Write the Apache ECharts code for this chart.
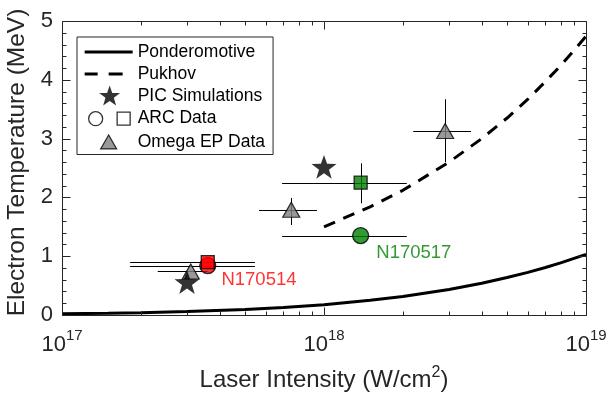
<!DOCTYPE html>
<html>
<head>
<meta charset="utf-8">
<script src="https://cdn.jsdelivr.net/npm/echarts@6.0.0/dist/echarts.min.js"></script>
<style>
html, body { margin: 0; padding: 0; background: #fff; }
#chart { width: 610px; height: 395px; }
</style>
</head>
<body>
<div id="chart"></div>
<script>
// theory curves
const pondI = [1e17, 1.5e17, 2e17, 3e17, 5e17, 7e17, 1e18, 1.5e18, 2e18, 3e18, 4e18, 5e18, 6e18, 7e18, 8e18, 1e19]
const pondT = [0.02, 0.03, 0.04, 0.059, 0.095, 0.128, 0.176, 0.249, 0.316, 0.435, 0.541, 0.637, 0.725, 0.808, 0.886, 1.03]
const pukhovI = [1e18, 1.5e18, 2e18, 3e18, 4e18, 5e18, 6e18, 7e18, 8e18, 9e18, 1e19]
const pukhovT = [1.5, 1.84, 2.12, 2.6, 3.0, 3.35, 3.67, 3.97, 4.24, 4.5, 4.74]

// PIC simulations
const picI = [3e17, 1e18]
const picT = [0.56, 2.52]

// Omega EP data
const omegaI = [3.1e17, 7.5e17, 2.9e18]
const omegaILo = [2.32e17, 5.65e17, 2.19e18]
const omegaIHi = [3.6e17, 9.4e17, 3.64e18]
const omegaT = [0.74, 1.79, 3.13]
const omegaTLo = [0.74, 1.53, 2.6]
const omegaTHi = [0.74, 1.99, 3.67]

// ARC shots
const arcShots = ['N170514', 'N170517']
const arcColors = ['#ff0000', '#008000']
const arcI = [3.6e17, 1.38e18]
const arcILo = [1.82e17, 6.92e17]
const arcIHi = [5.45e17, 2.07e18]
const arcSquareT = [0.9, 2.25]
const arcSquareTLo = [0.9, 1.9]
const arcSquareTHi = [0.9, 2.58]
const arcCircleT = [0.84, 1.35]

// axis ticks
const xMajor = [1e17, 1e18, 1e19]
const xMinorMult = [2, 3, 4, 5, 6, 7, 8, 9]
const yMajor = [0, 1, 2, 3, 4, 5]
const yMinorStep = 0.2

const ink = '#262626'
const font = 'Liberation Sans'

const starPath = 'M25,0.5 L27.59,7.94 L35.46,8.1 L29.18,12.86 L31.47,20.4 L25,15.9 L18.53,20.4 L20.82,12.86 L14.54,8.1 L22.41,7.94 Z'
// legend icons live in a 48x22 box
const box = ' M0,0 M48,22'
const legendSolid = 'path://M0,9.5 L48,9.5 L48,12.5 L0,12.5 Z' + box
const legendDash = 'path://M0,9.5 L13,9.5 L13,12.5 L0,12.5 Z M24,9.5 L38,9.5 L38,12.5 L24,12.5 Z' + box
const legendStar = 'path://' + starPath + box
const legendArc = 'path://M18,11 A7,7 0 1,1 4,11 A7,7 0 1,1 18,11 Z M32.5,4.5 L45.5,4.5 L45.5,17.5 L32.5,17.5 Z' + box
const legendTri = 'path://M16,18 L32,18 L24,4 Z' + box

let xMinor = []
for (let i = 0; i < xMajor.length - 1; i++) {
  xMinorMult.forEach(m => xMinor.push(xMajor[i] * m))
}
let yMinor = []
for (let v = yMinorStep; v < yMajor[yMajor.length - 1]; v += yMinorStep) {
  if (Math.abs(v - Math.round(v)) > 1e-6) yMinor.push(v)
}

let errRows = []
for (let i = 0; i < omegaI.length; i++) {
  errRows.push([omegaI[i], omegaT[i], omegaILo[i], omegaIHi[i], omegaTLo[i], omegaTHi[i]])
}
for (let i = 0; i < arcI.length; i++) {
  errRows.push([arcI[i], arcSquareT[i], arcILo[i], arcIHi[i], arcSquareTLo[i], arcSquareTHi[i]])
  errRows.push([arcI[i], arcCircleT[i], arcILo[i], arcIHi[i], arcCircleT[i], arcCircleT[i]])
}

const chart = echarts.init(document.getElementById('chart'))

const crisp = v => Math.round(v) + 0.5

// axes box with inward ticks on all four sides
// edges come from the grid rect, ticks from the scales (probed at an inner point)
function frameParts(params, api) {
  const cs = params.coordSys
  const L = crisp(cs.x), T = crisp(cs.y), R = crisp(cs.x + cs.width), B = crisp(cs.y + cs.height)
  const xMid = xMajor[1], yMid = yMajor[2]
  const out = []
  const seg = (x1, y1, x2, y2) => {
    if ([x1, y1, x2, y2].every(isFinite)) out.push({ type: 'line', shape: { x1: x1, y1: y1, x2: x2, y2: y2 }, style: { stroke: ink, lineWidth: 1 } })
  }
  seg(L, B, R, B); seg(L, T, R, T); seg(L, B, L, T); seg(R, B, R, T)
  xMajor.forEach(v => { const x = crisp(api.coord([v, yMid])[0]); seg(x, B, x, B - 8); seg(x, T, x, T + 8) })
  xMinor.forEach(v => { const x = crisp(api.coord([v, yMid])[0]); seg(x, B, x, B - 4); seg(x, T, x, T + 4) })
  yMajor.forEach(v => { const y = crisp(api.coord([xMid, v])[1]); seg(L, y, L + 8, y); seg(R, y, R - 8, y) })
  yMinor.forEach(v => { const y = crisp(api.coord([xMid, v])[1]); seg(L, y, L + 4, y); seg(R, y, R - 4, y) })
  return out
}

// error bars (the first item also carries the axes box)
function renderErrors(params, api) {
  const x = api.value(0)
  const y = api.value(1)
  const a = api.coord([api.value(2), y])
  const b = api.coord([api.value(3), y])
  const c = api.coord([x, api.value(4)])
  const d = api.coord([x, api.value(5)])
  let kids = [
    { type: 'line', shape: { x1: a[0], y1: crisp(a[1]), x2: b[0], y2: crisp(b[1]) }, style: { stroke: '#000', lineWidth: 1 } },
    { type: 'line', shape: { x1: crisp(c[0]), y1: c[1], x2: crisp(d[0]), y2: d[1] }, style: { stroke: '#000', lineWidth: 1 } }
  ]
  if (params.dataIndex === 0) kids = kids.concat(frameParts(params, api))
  return { type: 'group', children: kids }
}

const option = {
  animation: false,
  grid: { left: 62, right: 24, top: 21, bottom: 80, outerBoundsMode: 'none' },
  xAxis: {
    type: 'log',
    logBase: 10,
    min: 1e17,
    max: 1e19,
    axisLine: { show: false, onZero: false },
    axisTick: { show: false },
    axisLabel: {
      margin: 13,
      formatter: v => '{b|10}{s|' + Math.round(Math.log10(v)) + '}',
      rich: {
        b: { fontSize: 22, fontFamily: font, color: ink, lineHeight: 28, verticalAlign: 'bottom' },
        s: { fontSize: 15, fontFamily: font, color: ink, lineHeight: 17, verticalAlign: 'top' }
      }
    },
    splitLine: { show: false },
    name: '{a|Laser Intensity (W/cm}{s|2}{a|)}',
    nameLocation: 'middle',
    nameGap: 50,
    nameTextStyle: {
      rich: {
        a: { fontSize: 24, fontFamily: font, color: ink, lineHeight: 27, verticalAlign: 'bottom' },
        s: { fontSize: 16, fontFamily: font, color: ink, lineHeight: 18, verticalAlign: 'top' }
      }
    }
  },
  yAxis: {
    type: 'value',
    min: 0,
    max: 5,
    interval: 1,
    axisLine: { show: false, onZero: false },
    axisTick: { show: false },
    axisLabel: { fontSize: 22, fontFamily: font, color: ink, margin: 9 },
    splitLine: { show: false },
    name: 'Electron Temperature (MeV)',
    nameLocation: 'middle',
    nameGap: 30,
    nameTextStyle: { fontSize: 24.5, fontFamily: font, color: ink, padding: [0, 0, 0, 11] }
  },
  legend: {
    orient: 'vertical',
    left: 77,
    top: 37,
    padding: [4, 8, 1, 7],
    itemWidth: 48,
    itemHeight: 22,
    itemGap: 0,
    selectedMode: false,
    backgroundColor: '#fff',
    borderColor: ink,
    borderWidth: 1,
    textStyle: { fontSize: 17.5, fontFamily: font, color: '#000' },
    data: [
      { name: 'Ponderomotive', icon: legendSolid, itemStyle: { color: '#000', borderWidth: 0 } },
      { name: 'Pukhov', icon: legendDash, itemStyle: { color: '#000', borderWidth: 0 } },
      { name: 'PIC Simulations', icon: legendStar, itemStyle: { color: '#000', borderWidth: 0 } },
      { name: 'ARC Data', icon: legendArc, itemStyle: { color: '#fff', borderColor: '#000', borderWidth: 1.3 } },
      { name: 'Omega EP Data', icon: legendTri, itemStyle: { color: '#808080', borderColor: '#000', borderWidth: 1.2 } }
    ]
  },
  series: [
    {
      name: 'Ponderomotive',
      type: 'line',
      data: pondI.map((x, i) => [x, pondT[i]]),
      symbol: 'none',
      lineStyle: { color: '#000', width: 3 },
      itemStyle: { color: '#000' },
      z: 2
    },
    {
      name: 'Pukhov',
      type: 'line',
      data: pukhovI.map((x, i) => [x, pukhovT[i]]),
      symbol: 'none',
      lineStyle: { color: '#000', width: 3, type: [12, 9] },
      itemStyle: { color: '#000' },
      z: 2
    },
    {
      name: 'errors',
      type: 'custom',
      data: errRows,
      renderItem: renderErrors,
      z: 3
    },
    {
      name: 'Omega EP Data',
      type: 'scatter',
      data: omegaI.map((x, i) => [x, omegaT[i]]),
      symbol: 'triangle',
      symbolSize: [17, 15],
      itemStyle: { color: '#808080', borderColor: '#000', borderWidth: 1.2 },
      z: 4
    },
    {
      name: 'PIC Simulations',
      type: 'scatter',
      data: picI.map((x, i) => [x, picT[i]]),
      symbol: 'path://' + starPath,
      symbolKeepAspect: true,
      symbolSize: 25,
      itemStyle: { color: '#000' },
      z: 5
    },
    {
      name: 'ARC Data',
      type: 'scatter',
      data: [],
      itemStyle: { color: '#fff', borderColor: '#000', borderWidth: 1.3 }
    },
    {
      name: 'ARC circles',
      type: 'scatter',
      data: arcI.map((x, i) => ({
        value: [x, arcCircleT[i]],
        itemStyle: { color: arcColors[i] },
        label: { color: arcColors[i], offset: i === 0 ? [0, 14.5] : [0, 17], distance: i === 0 ? 5 : 7 }
      })),
      symbol: 'circle',
      symbolSize: 16,
      itemStyle: { borderColor: '#000', borderWidth: 1.3 },
      label: {
        show: true,
        position: 'right',
        fontSize: 18.5,
        fontFamily: font,
        formatter: p => arcShots[p.dataIndex]
      },
      z: 6
    },
    {
      name: 'ARC squares',
      type: 'scatter',
      data: arcI.map((x, i) => ({ value: [x, arcSquareT[i]], itemStyle: { color: arcColors[i] } })),
      symbol: 'rect',
      symbolSize: 13,
      itemStyle: { borderColor: '#000', borderWidth: 1.3 },
      z: 7
    }
  ]
}

chart.setOption(option)
</script>
</body>
</html>
